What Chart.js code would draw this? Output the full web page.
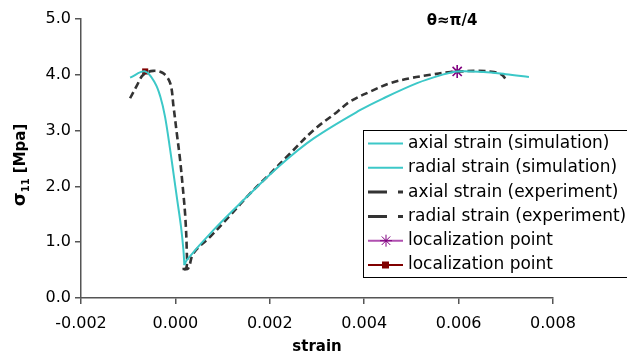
<!DOCTYPE html>
<html>
<head>
<meta charset="utf-8">
<script src="https://cdn.jsdelivr.net/npm/chart.js@4.4.1/dist/chart.umd.min.js"></script>
<style>
  body { margin: 0; background: #fff; }
  canvas { display: block; }
</style>
</head>
<body>
<canvas id="chart" width="627" height="357"></canvas>
<script>
// values (strain, sigma_11 in MPa)
const axialSimX = [0.00019, 0.00024, 0.00081, 0.00151, 0.00222, 0.00293, 0.00392, 0.00441, 0.00512, 0.00561, 0.00597, 0.00653, 0.00700, 0.00749];
const axialSimY = [0.59, 0.68, 1.22, 1.81, 2.38, 2.86, 3.37, 3.58, 3.85, 3.99, 4.06, 4.05, 4.01, 3.96];

const radialSimX = [-0.00096, -0.00064, -0.00043, -0.00032, -0.00022, -0.00011, -0.00003, 0.00004, 0.00012, 0.00017, 0.00019];
const radialSimY = [3.95, 4.06, 3.85, 3.61, 3.25, 2.65, 2.17, 1.75, 1.27, 0.86, 0.59];

const axialExpX = [0.00015, 0.00027, 0.00038, 0.00074, 0.00116, 0.00158, 0.00201, 0.00243, 0.00293, 0.00342, 0.00370, 0.00413, 0.00455, 0.00498, 0.00540, 0.00583, 0.00639, 0.00675, 0.00692, 0.00699];
const axialExpY = [0.52, 0.53, 0.80, 1.10, 1.48, 1.87, 2.23, 2.59, 3.01, 3.33, 3.52, 3.70, 3.85, 3.94, 4.00, 4.05, 4.07, 4.05, 4.00, 3.93];

const radialExpX = [-0.00096, -0.00082, -0.00068, -0.00047, -0.00026, -0.00011, -0.00004, 0.00003, 0.00010, 0.00016, 0.00021, 0.00024, 0.00023, 0.00013];
const radialExpY = [3.58, 3.80, 4.00, 4.07, 4.03, 3.85, 3.43, 2.95, 2.47, 1.95, 1.45, 0.86, 0.53, 0.52];

const locAxial = [0.00597, 4.06];
const locRadial = [-0.00064, 4.06];

const seriesNames = [
  'axial strain (simulation)',
  'radial strain (simulation)',
  'axial strain (experiment)',
  'radial strain (experiment)',
  'localization point',
  'localization point'
];
const xTicks = [-0.002, 0.000, 0.002, 0.004, 0.006, 0.008];
const yTicks = [0.0, 1.0, 2.0, 3.0, 4.0, 5.0];
const chartTitle = 'θ≈π/4';
const xTitle = 'strain';

const CYAN = '#3CC8C8';
const DARK = '#333333';
const FONT = '"DejaVu Sans", sans-serif';

function pts(xs, ys) {
  return xs.map((x, i) => ({ x: x, y: ys[i] }));
}

const lineDs = (label, data, color, dashed) => ({
  label: label,
  data: data,
  showLine: true,
  borderColor: color,
  backgroundColor: color,
  borderWidth: dashed ? 2.6 : 2,
  borderDash: dashed ? [7, 4] : [],
  pointRadius: 0,
  pointHoverRadius: 0,
  tension: 0.35,
  fill: false
});

// draws the title, the y label with subscript and the boxed legend
const decor = {
  id: 'decor',
  afterDraw(chart) {
    const ctx = chart.ctx;
    ctx.save();
    ctx.fillStyle = '#000';

    ctx.font = 'bold 15px ' + FONT;
    ctx.textAlign = 'center';
    ctx.textBaseline = 'middle';
    ctx.fillText(chartTitle, 452, 21);

    // y axis label: σ11 [Mpa]
    ctx.save();
    ctx.translate(20, 165);
    ctx.rotate(-Math.PI / 2);
    ctx.textAlign = 'left';
    ctx.textBaseline = 'alphabetic';
    const fSig = 'bold 18px ' + FONT, fSub = 'bold 10px ' + FONT, fRest = 'bold 15px ' + FONT;
    ctx.font = fSig; const w1 = ctx.measureText('σ').width;
    ctx.font = fSub; const w2 = ctx.measureText('11').width;
    ctx.font = fRest; const w3 = ctx.measureText(' [Mpa]').width;
    let x = -(w1 + w2 + w3) / 2;
    ctx.font = fSig; ctx.fillText('σ', x, 5); x += w1;
    ctx.font = fSub; ctx.fillText('11', x, 9); x += w2;
    ctx.font = fRest; ctx.fillText(' [Mpa]', x, 5);
    ctx.restore();

    // legend
    ctx.fillStyle = '#fff';
    ctx.fillRect(363, 130, 280, 147);
    ctx.strokeStyle = '#000';
    ctx.lineWidth = 1;
    ctx.strokeRect(363.5, 130.5, 280, 147);
    ctx.font = '17px ' + FONT;
    ctx.textAlign = 'left';
    ctx.textBaseline = 'middle';
    chart.data.datasets.forEach((ds, i) => {
      const y = 143.5 + i * 24.3;
      ctx.save();
      ctx.strokeStyle = ds.legendLine || ds.borderColor;
      ctx.lineWidth = ds.legendWidth || 2;
      ctx.setLineDash(ds.legendDash || []);
      ctx.beginPath();
      ctx.moveTo(368, y);
      ctx.lineTo(403, y);
      ctx.stroke();
      ctx.restore();
      if (ds.pointStyle === 'star') {
        ctx.save();
        ctx.strokeStyle = ds.borderColor;
        ctx.fillStyle = ds.backgroundColor;
        Chart.helpers.drawPoint(ctx, { pointStyle: 'star', radius: 6, borderWidth: 1.5 }, 386, y);
        ctx.restore();
      } else if (ds.pointStyle === 'rect') {
        ctx.fillStyle = ds.backgroundColor;
        ctx.fillRect(382, y - 3.5, 7, 7);
      }
      ctx.fillStyle = '#000';
      ctx.fillText(ds.label, 408, y);
    });
    ctx.restore();
  }
};

const axialSim = lineDs(seriesNames[0], pts(axialSimX, axialSimY), CYAN, false);
const radialSim = lineDs(seriesNames[1], pts(radialSimX, radialSimY), CYAN, false);
const axialExp = lineDs(seriesNames[2], pts(axialExpX, axialExpY), DARK, true);
const radialExp = lineDs(seriesNames[3], pts(radialExpX, radialExpY), DARK, true);
axialExp.legendDash = [19, 11];
radialExp.legendDash = [19, 11];
axialExp.legendWidth = 3;
radialExp.legendWidth = 3;

const starDs = {
  label: seriesNames[4],
  data: [{ x: locAxial[0], y: locAxial[1] }],
  pointStyle: 'star',
  pointRadius: 6.5,
  pointBorderWidth: 1.6,
  borderColor: '#800080',
  backgroundColor: '#800080',
  legendLine: '#B050B0',
  showLine: false
};
const rectDs = {
  label: seriesNames[5],
  data: [{ x: locRadial[0], y: locRadial[1] }],
  pointStyle: 'rect',
  pointRadius: 4.3,
  pointBorderWidth: 0,
  borderColor: '#800000',
  backgroundColor: '#800000',
  legendLine: '#800000',
  showLine: false
};

new Chart(document.getElementById('chart').getContext('2d'), {
  type: 'scatter',
  data: { datasets: [axialSim, radialSim, axialExp, radialExp, starDs, rectDs] },
  options: {
    responsive: false,
    animation: false,
    events: [],
    layout: { padding: { left: 0, right: 74, top: 19, bottom: 0 } },
    plugins: {
      legend: { display: false },
      tooltip: { enabled: false },
      title: { display: false }
    },
    scales: {
      x: {
        type: 'linear',
        min: xTicks[0],
        max: xTicks[xTicks.length - 1],
        afterBuildTicks: (scale) => { scale.ticks = xTicks.map(v => ({ value: v })); },
        afterFit: (scale) => { scale.height = 59; },
        ticks: {
          padding: 10,
          color: '#000',
          font: { family: FONT, size: 16 },
          callback: (v) => (Math.abs(v) < 1e-9 ? 0 : v).toFixed(3)
        },
        grid: { drawOnChartArea: false, drawTicks: true, tickLength: 6, color: '#555', lineWidth: 1.5 },
        border: { display: true, color: '#555', width: 1.5 },
        title: {
          display: true,
          text: xTitle,
          color: '#000',
          font: { family: FONT, size: 15, weight: 'bold' },
          padding: { top: 0, bottom: 1 }
        }
      },
      y: {
        type: 'linear',
        min: yTicks[0],
        max: yTicks[yTicks.length - 1],
        afterBuildTicks: (scale) => { scale.ticks = yTicks.map(v => ({ value: v })); },
        afterFit: (scale) => { scale.width = 81; },
        ticks: {
          padding: 4,
          color: '#000',
          font: { family: FONT, size: 16 },
          callback: (v) => v.toFixed(1)
        },
        grid: { drawOnChartArea: false, drawTicks: true, tickLength: 6, color: '#555', lineWidth: 1.5 },
        border: { display: true, color: '#555', width: 1.5 }
      }
    }
  },
  plugins: [decor]
});
</script>
</body>
</html>
